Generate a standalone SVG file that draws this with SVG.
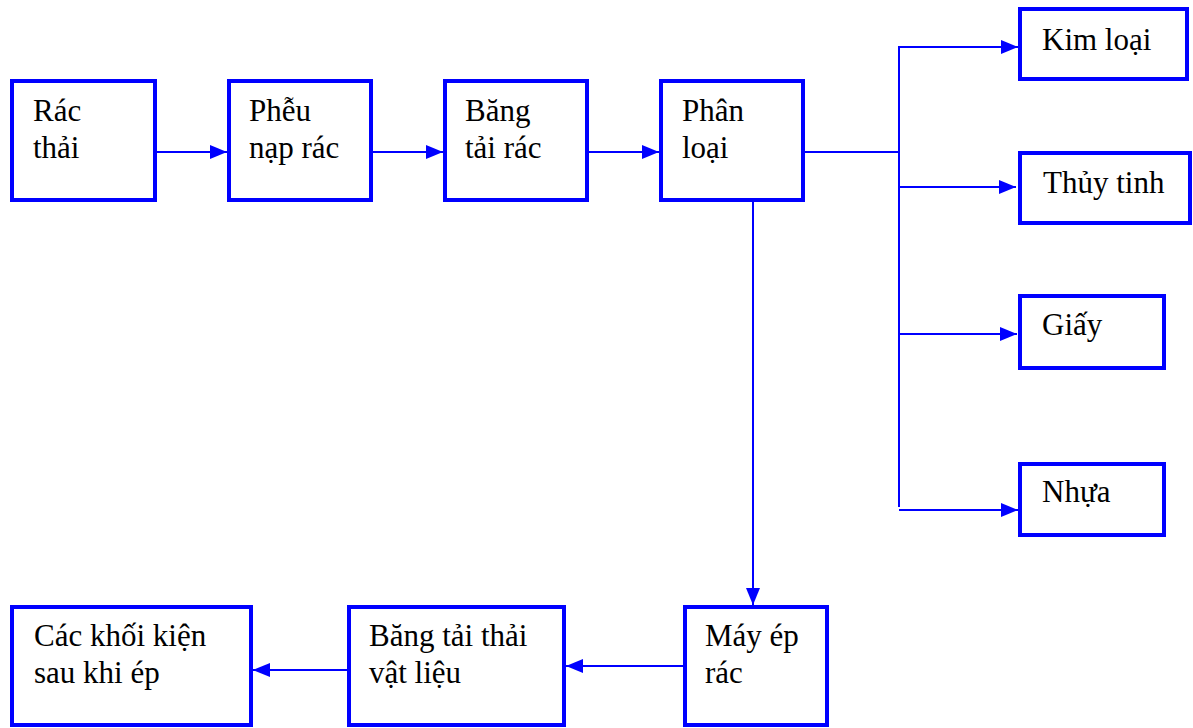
<svg xmlns="http://www.w3.org/2000/svg" width="1193" height="728" viewBox="0 0 1193 728">
<style>
.box{fill:#ffffff;stroke:#0000ff;stroke-width:4}
.lbl{font-family:"Liberation Serif","Times New Roman",serif;font-size:31px;fill:#000000}
.con{fill:none;stroke:#0000ff;stroke-width:2}
.arr{fill:none;stroke:#0000ff;stroke-width:2;marker-end:url(#ah)}
</style>
<defs>
<marker id="ah" markerUnits="userSpaceOnUse" markerWidth="18" markerHeight="14" refX="17" refY="7" orient="auto">
<path d="M0,0 L17,7 L0,14 z" fill="#0000ff"/>
</marker>
</defs>
<rect width="1193" height="728" fill="#ffffff"/>
<g id="connectors">
<path class="arr" d="M155,152 H227"/>
<path class="arr" d="M371,152 H443"/>
<path class="arr" d="M587,152 H659"/>
<path class="con" d="M803,152 H900"/>
<path class="con" d="M899,46 V507"/>
<path class="arr" d="M898,47 H1018"/>
<path class="arr" d="M898,187 H1016"/>
<path class="arr" d="M898,334 H1017"/>
<path class="arr" d="M899,510 H1018"/>
<path class="arr" d="M753,200 V605"/>
<path class="arr" d="M685,666 H566"/>
<path class="arr" d="M349,670 H253"/>
</g>
<g id="rac-thai">
<rect class="box" x="12" y="81" width="143" height="119"/>
<text class="lbl" x="33" y="121">Rác</text>
<text class="lbl" x="33" y="158">thải</text>
</g>
<g id="pheu-nap-rac">
<rect class="box" x="229" y="81" width="142" height="119"/>
<text class="lbl" x="249" y="121">Phễu</text>
<text class="lbl" x="249" y="158">nạp rác</text>
</g>
<g id="bang-tai-rac">
<rect class="box" x="445" y="81" width="142" height="119"/>
<text class="lbl" x="465" y="121">Băng</text>
<text class="lbl" x="465" y="158">tải rác</text>
</g>
<g id="phan-loai">
<rect class="box" x="661" y="81" width="142" height="119"/>
<text class="lbl" x="682" y="121">Phân</text>
<text class="lbl" x="682" y="158">loại</text>
</g>
<g id="kim-loai">
<rect class="box" x="1020" y="9" width="167" height="70"/>
<text class="lbl" x="1042" y="50">Kim loại</text>
</g>
<g id="thuy-tinh">
<rect class="box" x="1020" y="153" width="170" height="70"/>
<text class="lbl" x="1043" y="193">Thủy tinh</text>
</g>
<g id="giay">
<rect class="box" x="1020" y="296" width="144" height="72"/>
<text class="lbl" x="1042" y="335">Giấy</text>
</g>
<g id="nhua">
<rect class="box" x="1020" y="464" width="144" height="71"/>
<text class="lbl" x="1042" y="502">Nhựa</text>
</g>
<g id="may-ep-rac">
<rect class="box" x="685" y="607" width="142" height="118"/>
<text class="lbl" x="705" y="646">Máy ép</text>
<text class="lbl" x="705" y="683">rác</text>
</g>
<g id="bang-tai-thai">
<rect class="box" x="349" y="607" width="215" height="118"/>
<text class="lbl" x="369" y="646">Băng tải thải</text>
<text class="lbl" x="369" y="683">vật liệu</text>
</g>
<g id="cac-khoi-kien">
<rect class="box" x="12" y="607" width="239" height="118"/>
<text class="lbl" x="34" y="646">Các khối kiện</text>
<text class="lbl" x="34" y="683">sau khi ép</text>
</g>
</svg>
